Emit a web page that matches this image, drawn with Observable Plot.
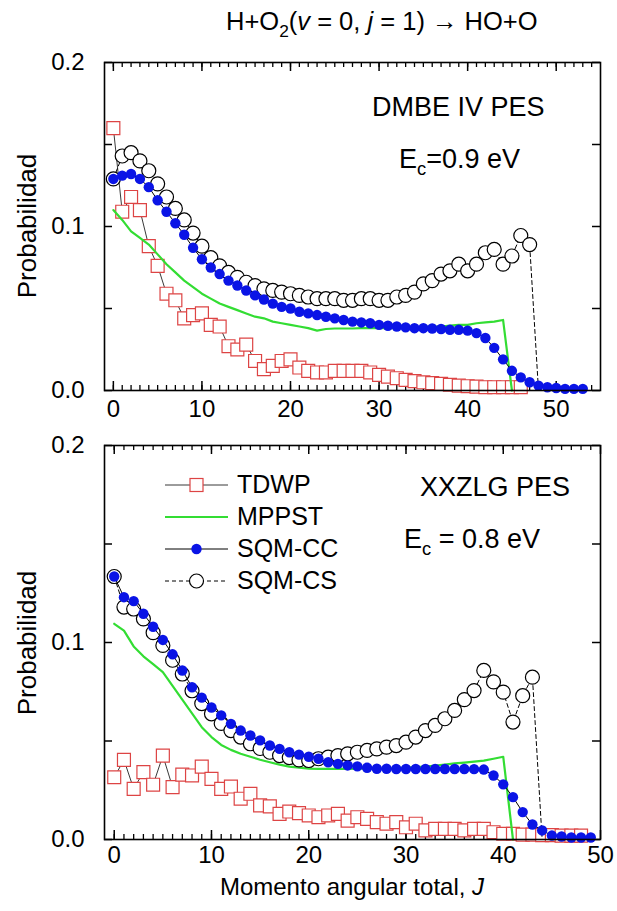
<!DOCTYPE html>
<html><head><meta charset="utf-8">
<script src="https://cdn.jsdelivr.net/npm/d3@7"></script>
<script src="https://cdn.jsdelivr.net/npm/@observablehq/plot@0.6"></script>
<style>
body{margin:0;background:#fff;font-family:"Liberation Sans",Arial,Helvetica,sans-serif;}
#wrap{position:relative;width:617px;height:911px;overflow:hidden;background:#fff;}
#wrap svg{position:absolute;left:0;}
.ov{position:absolute;white-space:nowrap;color:#000;line-height:1;}
.ov sub{font-size:68%;vertical-align:-0.38em;line-height:0;}
.leg{position:absolute;display:flex;align-items:center;font-size:25px;line-height:1;}
.leg svg{position:static !important;margin-right:8px;}
</style></head>
<body><div id="wrap"></div>
<script>
// ---------- DATA ----------
const seriesNames = ["TDWP", "MPPST", "SQM-CC", "SQM-CS"];
const xTicksTop = [0, 10, 20, 30, 40, 50];
const xTicksBottom = [0, 10, 20, 30, 40, 50];
const yTickLabels = [0, 0.1, 0.2];

// Top panel (DMBE IV PES, Ec = 0.9 eV); index = J
const topTDWP = [0.160,0.109,0.118,0.110,0.088,0.076,0.059,0.055,0.044,0.046,0.047,0.040,0.039,0.027,0.025,0.028,0.018,0.013,0.015,0.018,0.019,0.014,0.012,0.011,0.011,0.012,0.012,0.012,0.012,0.011,0.0095,0.0085,0.0075,0.0065,0.0057,0.005,0.0045,0.004,0.0035,0.003,0.0026,0.0024,0.002,0.002,0.002,0.002,0.002];
const topMPPST = [0.110,0.104,0.097,0.093,0.089,0.083,0.077,0.072,0.067,0.063,0.059,0.056,0.053,0.051,0.049,0.047,0.045,0.044,0.042,0.041,0.040,0.039,0.038,0.0365,0.0375,0.0378,0.0378,0.0378,0.038,0.038,0.038,0.038,0.038,0.0382,0.0385,0.0388,0.039,0.039,0.0395,0.040,0.040,0.041,0.0415,0.042,0.043,0.0];
const topCC = [0.129,0.131,0.132,0.129,0.124,0.116,0.109,0.102,0.095,0.087,0.080,0.075,0.071,0.067,0.064,0.061,0.058,0.0555,0.053,0.051,0.050,0.048,0.047,0.046,0.045,0.044,0.043,0.042,0.0415,0.041,0.040,0.0395,0.039,0.0385,0.038,0.038,0.0378,0.0375,0.037,0.037,0.0365,0.035,0.032,0.026,0.019,0.012,0.008,0.005,0.003,0.002,0.0015,0.001,0.001,0.001];
const topCS = [0.129,0.143,0.145,0.140,0.134,0.126,0.118,0.111,0.104,0.096,0.088,0.081,0.076,0.072,0.069,0.066,0.064,0.062,0.061,0.060,0.059,0.058,0.057,0.056,0.056,0.056,0.055,0.055,0.056,0.056,0.055,0.055,0.057,0.058,0.060,0.065,0.067,0.071,0.073,0.077,0.073,0.077,0.084,0.086,0.077,0.082,0.0945,0.089,0.0];

// Bottom panel (XXZLG PES, Ec = 0.8 eV); index = J
const botTDWP = [0.0316,0.0404,0.0257,0.0342,0.0278,0.0426,0.0266,0.0329,0.0325,0.037,0.0308,0.0257,0.0269,0.0207,0.0232,0.0173,0.0168,0.013,0.0142,0.0134,0.0122,0.0113,0.0122,0.013,0.0096,0.0113,0.0105,0.0088,0.008,0.0088,0.0062,0.008,0.0046,0.0054,0.0054,0.0054,0.0046,0.0054,0.0054,0.0037,0.0029,0.0029,0.0025,0.0025,0.0022,0.0022,0.002,0.002,0.002];
const botMPPST = [0.1095,0.106,0.098,0.093,0.089,0.085,0.078,0.071,0.064,0.057,0.052,0.048,0.0455,0.0435,0.042,0.0405,0.0392,0.038,0.037,0.0365,0.036,0.0358,0.0358,0.0358,0.0358,0.036,0.036,0.036,0.036,0.0362,0.0365,0.0368,0.037,0.0375,0.038,0.0386,0.039,0.0395,0.040,0.041,0.042,0.0];
const botCC = [0.1335,0.123,0.121,0.1146,0.108,0.1013,0.094,0.0858,0.0773,0.072,0.067,0.063,0.0587,0.0553,0.0528,0.0503,0.0477,0.046,0.0443,0.0431,0.042,0.041,0.0392,0.0384,0.0376,0.0371,0.0364,0.0359,0.0359,0.0358,0.0358,0.0358,0.0358,0.0358,0.0358,0.0358,0.0358,0.0357,0.0355,0.0325,0.028,0.0215,0.0139,0.0076,0.0046,0.002,0.0015,0.001,0.001,0.001];
const botCS = [0.1335,0.118,0.117,0.112,0.105,0.0985,0.091,0.084,0.0755,0.069,0.0638,0.0589,0.0553,0.052,0.0486,0.0462,0.0443,0.0426,0.0416,0.0404,0.0401,0.041,0.0418,0.0426,0.0435,0.0443,0.0452,0.046,0.0469,0.0477,0.0494,0.052,0.0553,0.0579,0.0613,0.0655,0.071,0.0756,0.0858,0.080,0.0748,0.0596,0.073,0.0824,0.0];

// ---------- STYLE ----------
const FONT = '"Liberation Sans", Arial, Helvetica, sans-serif';
const C = {TDWP: "#dd4444", MPPST: "#33dd33", CC: "#0a14e6", line: "#222"};
const W = 617, ML = 104, MR = 17;

function pts(arr) { return arr.map((p, J) => ({J, p})); }

function panel({xMax, xTicks, height, marginTop, marginBottom, tickPad, tdwp, mppst, cc, cs}) {
  const innerH = height - marginTop - marginBottom;
  const innerW = W - ML - MR;
  const minor = d3.range(0, xMax, 1);
  const yTicks = d3.range(0, 0.2001, 0.05);
  const T = pts(tdwp), M = pts(mppst), CC = pts(cc), CS = pts(cs);
  return Plot.plot({
    width: W, height, marginLeft: ML, marginRight: MR, marginTop, marginBottom,
    x: {domain: [-1, xMax], axis: null},
    y: {domain: [0, 0.2], axis: null},
    style: {fontFamily: FONT, fontSize: "24px", color: "#000", background: "transparent", overflow: "visible"},
    marks: [
      // inward ticks
      Plot.ruleX(minor, {x: d => d, insetTop: innerH - 5, stroke: "#000", strokeWidth: 1.3}),
      Plot.ruleX(minor, {x: d => d, insetBottom: innerH - 5, stroke: "#000", strokeWidth: 1.3}),
      Plot.ruleX(xTicks, {x: d => d, insetTop: innerH - 9, stroke: "#000", strokeWidth: 1.5}),
      Plot.ruleX(xTicks, {x: d => d, insetBottom: innerH - 9, stroke: "#000", strokeWidth: 1.5}),
      Plot.ruleY(yTicks, {y: d => d, insetRight: innerW - 8, stroke: "#000", strokeWidth: 1.5}),
      Plot.ruleY(yTicks, {y: d => d, insetLeft: innerW - 8, stroke: "#000", strokeWidth: 1.5}),
      Plot.axisX(xTicks, {anchor: "bottom", tickSize: 0, tickPadding: tickPad, label: null, fontSize: 24, fill: "#000"}),
      Plot.axisY(yTickLabels, {anchor: "left", tickSize: 0, tickPadding: 20, label: null, tickFormat: d3.format(".1f"), fontSize: 24, fill: "#000"}),
      // TDWP
      Plot.line(T, {x: "J", y: "p", stroke: C.line, strokeWidth: 0.9}),
      Plot.dot(T, {x: "J", y: "p", symbol: "square", r: 7.3, stroke: C.TDWP, fill: "#fff", strokeWidth: 1.2}),
      // MPPST
      Plot.line(M, {x: "J", y: "p", stroke: C.MPPST, strokeWidth: 2.2}),
      // SQM-CS
      Plot.line(CS, {x: "J", y: "p", stroke: "#000", strokeWidth: 1, strokeDasharray: "4,3"}),
      Plot.dot(CS.filter(d => d.p > 0), {x: "J", y: "p", r: 7, stroke: "#000", fill: "#fff", strokeWidth: 1.2}),
      // SQM-CC
      Plot.line(CC, {x: "J", y: "p", stroke: "#000", strokeWidth: 1}),
      Plot.dot(CC, {x: "J", y: "p", r: 5.2, fill: C.CC, stroke: "none"}),
      Plot.frame({stroke: "#000", strokeWidth: 1.6})
    ]
  });
}

const wrap = document.getElementById("wrap");

const p1 = panel({xMax: 55, xTicks: xTicksTop, height: 420, marginTop: 62, marginBottom: 30, tickPad: 9,
  tdwp: topTDWP, mppst: topMPPST, cc: topCC, cs: topCS});
p1.style.top = "0px";
wrap.appendChild(p1);

const p2 = panel({xMax: 50, xTicks: xTicksBottom, height: 491, marginTop: 25, marginBottom: 72, tickPad: 6,
  tdwp: botTDWP, mppst: botMPPST, cc: botCC, cs: botCS});
p2.style.top = "420px";
wrap.appendChild(p2);

function ov(html, css) {
  const d = document.createElement("div");
  d.className = "ov";
  d.innerHTML = html;
  Object.assign(d.style, css);
  wrap.appendChild(d);
  return d;
}

// Title
ov('H+O<sub>2</sub>(<i>v</i> = 0, <i>j</i> = 1) → HO+O', {left: "226px", top: "9px", fontSize: "25.5px"});
// Annotations
ov('DMBE IV PES', {left: "372px", top: "94px", fontSize: "27px"});
ov('E<sub>c</sub>=0.9 eV', {left: "399px", top: "146px", fontSize: "27px"});
ov('XXZLG PES', {left: "420px", top: "474px", fontSize: "27px"});
ov('E<sub>c</sub> = 0.8 eV', {left: "404px", top: "526px", fontSize: "27px"});
// Axis labels
const yl = "Probabilidad";
[226, 643].forEach(cy => {
  ov(yl, {left: "27px", top: cy + "px", fontSize: "26px", transform: "translate(-50%,-50%) rotate(-90deg)"});
});
ov('Momento angular total, <i>J</i>', {left: "352px", top: "887px", fontSize: "24px", transform: "translate(-50%,-50%)"});

// Legend
const legendRows = [
  {name: seriesNames[0], line: C.line, lw: 0.9, dash: null, marker: "square"},
  {name: seriesNames[1], line: C.MPPST, lw: 2.2, dash: null, marker: null},
  {name: seriesNames[2], line: "#000", lw: 1, dash: null, marker: "dot"},
  {name: seriesNames[3], line: "#000", lw: 1, dash: "4,3", marker: "circle"}
];
legendRows.forEach((r, i) => {
  const row = document.createElement("div");
  row.className = "leg";
  row.style.left = "164px";
  row.style.top = (472 + i * 32) + "px";
  const svg = d3.create("svg").attr("width", 65).attr("height", 24);
  svg.append("line").attr("x1", 1).attr("x2", 64).attr("y1", 12).attr("y2", 12)
    .attr("stroke", r.line).attr("stroke-width", r.lw).attr("stroke-dasharray", r.dash);
  if (r.marker === "square") svg.append("rect").attr("x", 26).attr("y", 5.5).attr("width", 13).attr("height", 13)
    .attr("fill", "#fff").attr("stroke", C.TDWP).attr("stroke-width", 1.2);
  if (r.marker === "dot") svg.append("circle").attr("cx", 32.5).attr("cy", 12).attr("r", 5.2).attr("fill", C.CC);
  if (r.marker === "circle") svg.append("circle").attr("cx", 32.5).attr("cy", 12).attr("r", 7).attr("fill", "#fff").attr("stroke", "#000").attr("stroke-width", 1.2);
  row.appendChild(svg.node());
  const t = document.createElement("span");
  t.textContent = r.name;
  row.appendChild(t);
  wrap.appendChild(row);
});
</script>
</body></html>
